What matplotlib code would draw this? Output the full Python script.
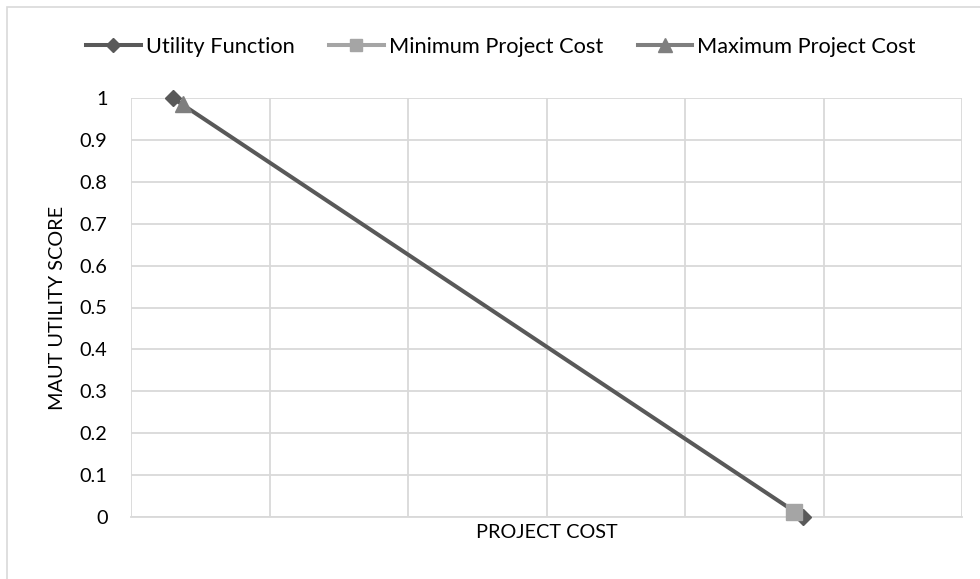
import matplotlib
matplotlib.use("Agg")
import matplotlib.pyplot as plt
from matplotlib.patches import Rectangle
from matplotlib.lines import Line2D

plt.rcParams['font.family'] = ['Lato', 'DejaVu Sans']

# Utility curve end points (cost on an unlabelled scale, utility score)
utility_cost = [0.30, 4.85]
utility_score = [1.0, 0.0]

min_cost = [4.79]
min_score = [0.011]

max_cost = [0.375]
max_score = [0.986]

y_ticks = [0, 0.1, 0.2, 0.3, 0.4, 0.5, 0.6, 0.7, 0.8, 0.9, 1]
y_tick_labels = ['0', '0.1', '0.2', '0.3', '0.4', '0.5', '0.6', '0.7', '0.8', '0.9', '1']
x_grid = [0, 1, 2, 3, 4, 5, 6]

dark = '#595959'
light = '#A5A5A5'
mid = '#7F7F7F'
grid_c = '#D9D9D9'
fs = 14.3
legend_fs = 15.7

fig = plt.figure(figsize=(9.8, 5.79), dpi=100)
ax = fig.add_axes([131/980, 1-517/579, (962-131)/980, (517-98)/579])

ax.plot(utility_cost, utility_score, color=dark, lw=2.9, marker='D', ms=8.5,
        zorder=3, clip_on=False, label='Utility Function')
ax.plot(min_cost, min_score, color=light, marker='s', ms=11,
        ls='none', zorder=4, clip_on=False, label='Minimum Project Cost')
ax.plot(max_cost, max_score, color=mid, marker='^', ms=12,
        ls='none', zorder=4, clip_on=False, label='Maximum Project Cost')

ax.set_xlim(0, 6)
ax.set_ylim(0, 1)
ax.set_xticks(x_grid)
ax.set_yticks(y_ticks)
ax.set_yticklabels(y_tick_labels, fontsize=fs, color='#000000')
ax.tick_params(axis='both', length=0)
ax.tick_params(axis='y', pad=17)
ax.tick_params(axis='x', labelbottom=False)
ax.grid(True, color=grid_c, lw=1.3)
ax.set_axisbelow(True)
for s in ax.spines.values():
    s.set_visible(False)
ax.plot([0, 6], [0, 0], color=grid_c, lw=1.3, zorder=1, clip_on=False)

ax.set_xlabel('PROJECT COST', fontsize=fs, labelpad=5)
ax.set_ylabel('MAUT UTILITY SCORE', fontsize=fs, labelpad=10)

handles = [
    Line2D([], [], color=dark, lw=2.9, marker='D', ms=7),
    Line2D([], [], color=light, lw=2.9, marker='s', ms=9),
    Line2D([], [], color=mid, lw=2.9, marker='^', ms=10),
]
labels = ['Utility Function', 'Minimum Project Cost', 'Maximum Project Cost']
fig.legend(handles, labels, loc='center', bbox_to_anchor=(501/980, 1-47/579),
           ncol=3, frameon=False, fontsize=legend_fs, handlelength=2.5,
           handletextpad=0.23, columnspacing=1.6,
           borderpad=0, borderaxespad=0)

# chart border
fig.patches.append(Rectangle((7/980, -0.1), 1.1, 1-7/579+0.1,
                             transform=fig.transFigure, fill=False,
                             edgecolor='#D9D9D9', lw=1.2))

fig.savefig('out.png', dpi=100)
